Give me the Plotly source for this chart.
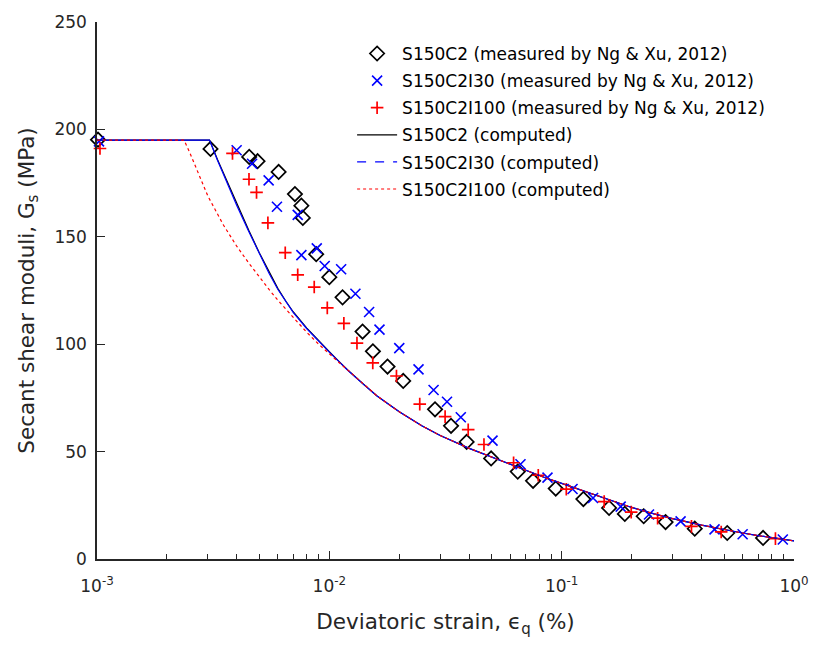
import plotly.graph_objects as go

s150c2_x = [0.00101, 0.00308, 0.00452, 0.00491, 0.00605, 0.00711, 0.00758, 0.00769, 0.00878, 0.0100,
            0.0114, 0.0139, 0.0154, 0.0178, 0.0208, 0.0285, 0.0334, 0.0390, 0.0497, 0.0647,
            0.0753, 0.0943, 0.124, 0.160, 0.187, 0.2255, 0.280, 0.374, 0.516, 0.736]
s150c2_y = [195.2, 190.9, 187.2, 185.2, 180.2, 169.9, 164.5, 158.8, 141.9, 131.2,
            121.8, 105.9, 96.7, 89.6, 82.9, 69.7, 62.0, 54.5, 46.8, 40.7,
            36.4, 32.8, 27.9, 23.8, 21.0, 19.9, 17.2, 14.1, 12.1, 9.8]

s150c2i30_x = [0.00102, 0.00399, 0.00465, 0.00548, 0.00595, 0.00731, 0.00758, 0.00883, 0.00955, 0.01124,
               0.01295, 0.01483, 0.01644, 0.0200, 0.0242, 0.0281, 0.0321, 0.0368, 0.0504, 0.0665,
               0.0869, 0.1114, 0.1365, 0.1795, 0.2376, 0.325, 0.455, 0.601, 0.895]
s150c2i30_y = [194.4, 190.3, 184.0, 176.3, 164.0, 160.2, 141.5, 144.6, 136.4, 134.9,
               123.5, 115.0, 106.8, 98.2, 88.3, 78.7, 73.2, 66.0, 55.1, 44.1,
               37.9, 32.6, 28.4, 24.4, 20.7, 17.5, 13.8, 11.5, 9.1]

s150c2i100_x = [0.00103, 0.00383, 0.00451, 0.00486, 0.00544, 0.00646, 0.00731, 0.00861, 0.00980, 0.01155,
                0.01315, 0.01538, 0.01945, 0.0245, 0.0315, 0.0396, 0.0463, 0.0621, 0.0793, 0.1047,
                0.1524, 0.1992, 0.2588, 0.362, 0.486, 0.832]
s150c2i100_y = [191.1, 188.8, 176.8, 170.7, 156.5, 142.6, 132.3, 126.6, 116.9, 109.7,
                100.5, 91.3, 85.2, 72.1, 66.3, 60.2, 53.3, 44.8, 39.0, 32.5,
                26.7, 21.8, 19.0, 15.2, 12.6, 9.5]

# ---- computed curves ----
comp_c2_x = [0.001, 0.00305, 0.0033, 0.0036, 0.004, 0.0045, 0.005, 0.0055, 0.006, 0.0065, 0.007, 0.008,
             0.009, 0.01, 0.011, 0.012, 0.014, 0.016, 0.018, 0.02, 0.025, 0.03, 0.04, 0.05, 0.06, 0.07,
             0.085, 0.1, 0.13, 0.16, 0.2, 0.25, 0.3, 0.4, 0.5, 0.6, 0.7, 0.85, 1.0]
comp_c2_y = [195, 195, 186, 176.5, 165, 153, 142.5, 133.5, 126, 120, 115, 107.5,
             101.5, 96.5, 92, 88, 81.5, 76, 72, 68.5, 62, 57.5, 51.5, 47.5, 44, 41.2,
             37.8, 35.2, 31, 27.6, 24, 21, 18.8, 15.8, 13.7, 12.1, 10.9, 9.5, 8.4]

comp_i30_x = [0.001, 0.00305, 0.0033, 0.0036, 0.004, 0.0045, 0.005, 0.0055, 0.006, 0.0065, 0.007, 0.008,
              0.009, 0.01, 0.011, 0.012, 0.014, 0.016, 0.018, 0.02, 0.025, 0.03, 0.04, 0.05, 0.06, 0.07,
              0.085, 0.1, 0.13, 0.16, 0.2, 0.25, 0.3, 0.4, 0.5, 0.6, 0.7, 0.85, 1.0]
comp_i30_y = [195, 195, 185.6, 176, 164.5, 152.5, 142, 133, 125.6, 119.6, 114.7, 107.2,
              101.3, 96.3, 91.9, 87.9, 81.4, 76, 72, 68.5, 62, 57.5, 51.5, 47.5, 44, 41.2,
              37.8, 35.2, 31, 27.6, 24, 21, 18.8, 15.8, 13.7, 12.1, 10.9, 9.5, 8.4]

comp_i100_x = [0.001, 0.00237, 0.0025, 0.0027, 0.003, 0.0035, 0.004, 0.0045, 0.005, 0.0055, 0.006, 0.007,
               0.008, 0.009, 0.01, 0.011, 0.012, 0.014, 0.016, 0.018, 0.02, 0.025, 0.03, 0.04, 0.05, 0.06,
               0.07, 0.085, 0.1, 0.13, 0.16, 0.2, 0.25, 0.3, 0.4, 0.5, 0.6, 0.7, 0.85, 1.0]
comp_i100_y = [195, 195, 189.5, 180.5, 169, 155.5, 145.5, 137.8, 131.2, 125.5, 120.5, 112.3,
               105.5, 100, 95.3, 91.5, 88, 81.5, 76, 72, 68.5, 62, 57.5, 51.5, 47.5, 44,
               41.2, 37.8, 35.2, 31, 27.6, 24, 21, 18.8, 15.8, 13.7, 12.1, 10.9, 9.5, 8.4]

x_tickvals = [0.001, 0.01, 0.1, 1]
x_ticktext = ["10<sup>-3</sup>", "10<sup>-2</sup>", "10<sup>-1</sup>", "10<sup>0</sup>"]
y_tickvals = [0, 50, 100, 150, 200, 250]

names = ["S150C2 (measured by Ng & Xu, 2012)",
         "S150C2I30 (measured by Ng & Xu, 2012)",
         "S150C2I100 (measured by Ng & Xu, 2012)",
         "S150C2 (computed)",
         "S150C2I30 (computed)",
         "S150C2I100 (computed)"]

AX = "#262626"
FONT = "DejaVu Sans, Liberation Sans, Arial, sans-serif"
fig = go.Figure()

fig.add_trace(go.Scatter(x=s150c2_x, y=s150c2_y, mode="markers", name=names[0], legendgroup="a",
                         marker=dict(symbol="diamond-open", size=11, color="black", line=dict(width=1.7)),
                         cliponaxis=False))
fig.add_trace(go.Scatter(x=s150c2i30_x, y=s150c2i30_y, mode="markers", name=names[1], legendgroup="b",
                         marker=dict(symbol="x-thin-open", size=10, color="blue", line=dict(width=1.6, color="blue")),
                         cliponaxis=False))
fig.add_trace(go.Scatter(x=s150c2i100_x, y=s150c2i100_y, mode="markers", name=names[2], legendgroup="c",
                         marker=dict(symbol="cross-thin-open", size=9, color="red", line=dict(width=1.7, color="red")),
                         cliponaxis=False))
fig.add_trace(go.Scatter(x=comp_c2_x, y=comp_c2_y, mode="lines", name=names[3], legendgroup="d",
                         line=dict(color="black", width=1.2)))
fig.add_trace(go.Scatter(x=comp_i30_x, y=comp_i30_y, mode="lines", name=names[4], showlegend=False,
                         legendgroup="e", line=dict(color="blue", width=1.2)))
# legend entry showing the dashed style of the I30 computed curve
fig.add_trace(go.Scatter(x=[None], y=[None], mode="lines", name=names[4], legendgroup="e",
                         line=dict(color="blue", width=1.2, dash="dash")))
fig.add_trace(go.Scatter(x=comp_i100_x, y=comp_i100_y, mode="lines", name=names[5], legendgroup="f",
                         line=dict(color="red", width=1.2, dash="dot")))

minor_vals = [m * 10 ** e for e in (-3, -2, -1) for m in range(2, 10)]

fig.update_layout(
    width=821, height=648,
    margin=dict(l=97, r=19, t=16, b=89),
    paper_bgcolor="white", plot_bgcolor="white",
    font=dict(family=FONT, color=AX, size=17),
    showlegend=True,
    legend=dict(x=0.366, y=0.974, xanchor="left", yanchor="top", bgcolor="rgba(0,0,0,0)",
                borderwidth=0, font=dict(family=FONT, size=17, color="black"),
                tracegroupgap=2, itemwidth=40),
    xaxis=dict(type="log", range=[-3, 0], tickvals=x_tickvals, ticktext=x_ticktext,
               ticks="inside", ticklen=8, tickwidth=1.3, tickcolor=AX, ticklabelstandoff=11,
               showline=True, linecolor=AX, linewidth=1.5, showgrid=False, zeroline=False,
               tickfont=dict(family=FONT, size=17, color=AX),
               minor=dict(ticks="inside", ticklen=5, tickwidth=1.1, tickcolor=AX, tickvals=minor_vals, showgrid=False),
               title=dict(text="Deviatoric strain, ϵ<sub>q</sub> (%)", font=dict(family=FONT, size=21.5, color=AX), standoff=19)),
    yaxis=dict(range=[0, 250], tickvals=y_tickvals, ticks="inside", ticklen=8, tickwidth=1.3, tickcolor=AX,
               ticklabelstandoff=5,
               showline=True, linecolor=AX, linewidth=1.5, showgrid=False, zeroline=False,
               tickfont=dict(family=FONT, size=17, color=AX),
               title=dict(text="Secant shear moduli, G<sub>s</sub> (MPa)", font=dict(family=FONT, size=21.5, color=AX), standoff=14)),
)

fig.write_html("out.html")
